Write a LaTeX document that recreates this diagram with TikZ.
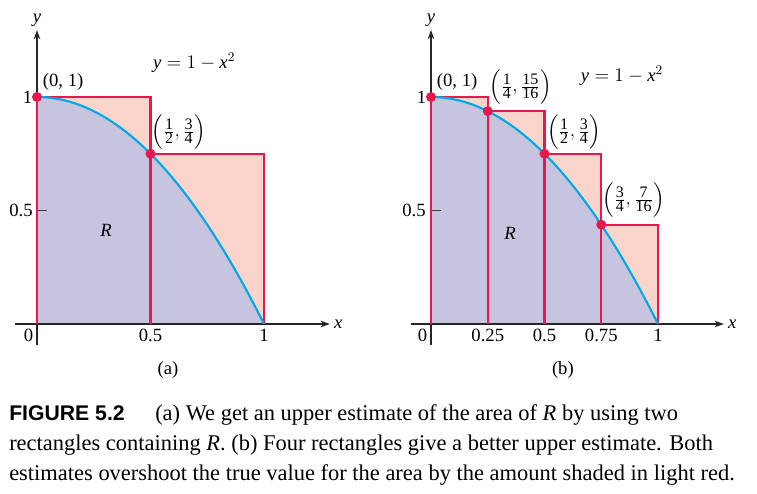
\documentclass[tikz,border=0pt]{standalone}
\usepackage{amsmath}
\usepackage{fontspec}
\setmainfont{Liberation Serif}
\newfontfamily\capsans{Liberation Sans}
\usetikzlibrary{arrows.meta}
\definecolor{regblue}{RGB}{199,196,224}
\definecolor{overred}{RGB}{250,212,203}
\definecolor{rectred}{RGB}{232,24,78}
\definecolor{curvecyan}{RGB}{0,170,228}
\newcommand{\fracdig}[1]{\mbox{\fontsize{12}{13}\selectfont #1}}
\newcommand{\ptfrac}[4]{$\left(\frac{\fracdig{#1}}{\fracdig{#2}},\frac{\fracdig{#3}}{\fracdig{#4}}\right)$}
\tikzset{
  axisline/.style={black!85, line width=0.8pt},
  axisarrow/.style={axisline, -{Stealth[length=7pt,width=5pt]}},
  tickmark/.style={black!75, line width=0.8pt},
  rectline/.style={rectred, line width=1.6pt},
  curveline/.style={curvecyan, line width=1.6pt},
  dot/.style={circle, fill=rectred, inner sep=0pt, minimum size=7.5pt},
  lbl/.style={font=\fontsize{14}{16}\selectfont, inner sep=0pt},
  captext/.style={font=\fontsize{16.85}{19}\selectfont, inner sep=0pt, anchor=base west},
}
\begin{document}
\begin{tikzpicture}[x=0.75pt, y=-0.75pt]
  \useasboundingbox (0,0) rectangle (757,493);
  % (a) two rectangles
  \begin{scope}[shift={(37,324)}, x=170.25pt, y=170.25pt]
    \fill[overred] (0,0) rectangle (0.5,1);
    \fill[overred] (0.5,0) rectangle (1,0.75);
    \fill[regblue] (0,0) -- plot[domain=0:1, samples=60] (\x,{1-\x*\x}) -- cycle;
    \foreach \t in {0.5,1}
      \draw[tickmark] (\t,0) -- (\t,0.045);
    \foreach \t in {0.5,1}
      \draw[tickmark] (0,\t) -- (0.045,\t);
    \draw[axisarrow] (-0.095,0) -- (1.29,0);
    \draw[axisarrow] (0,-0.093) -- (0,1.295);
    \draw[rectline] (0,0) -- (0,1) -- (0.5,1) -- (0.5,0);
    \draw[rectline] (0.5,0.75) -- (1,0.75) -- (1,0);
    \draw[curveline] plot[domain=0:1, samples=60] (\x,{1-\x*\x});
    \node[dot] (a0) at (0,1) {};
    \node[dot] (a1) at (0.5,0.75) {};
    \node[lbl] (ax) at (1.327,0) {\textit{x}};
    \node[lbl] (ay) at (0,1.339) {\textit{y}};
    \node[lbl, anchor=east] (ay1) at (-0.02,1) {1};
    \node[lbl, anchor=east] (ayh) at (-0.018,0.5) {0.5};
    \node[lbl, anchor=north east] (ax0) at (-0.015,-0.02) {0};
    \node[lbl, anchor=north] (axh) at (0.5,-0.02) {0.5};
    \node[lbl, anchor=north] (ax1) at (1,-0.02) {1};
    \node[lbl] (acap) at (0.577,-0.203) {(a)};
    \node[lbl] (alab0) at (0.115,1.066) {(0, 1)};
    \node[lbl] (alab1) at (0.625,0.846) {\ptfrac{1}{2}{3}{4}};
    \node[lbl] (afun) at (0.692,1.150) {$\mathit{y} = 1 - \mathit{x}^2$};
    \node[lbl] (areg) at (0.304,0.414) {\textit{R}};
  \end{scope}
  % (b) four rectangles
  \begin{scope}[shift={(431,324)}, x=170.25pt, y=170.25pt]
    \foreach \l/\h in {0/1, 0.25/0.9375, 0.5/0.75, 0.75/0.4375}
      \fill[overred] (\l,0) rectangle (\l+0.25,\h);
    \fill[regblue] (0,0) -- plot[domain=0:1, samples=60] (\x,{1-\x*\x}) -- cycle;
    \foreach \t in {0.25,0.5,0.75,1}
      \draw[tickmark] (\t,0) -- (\t,0.045);
    \foreach \t in {0.5,1}
      \draw[tickmark] (0,\t) -- (0.045,\t);
    \draw[axisarrow] (-0.09,0) -- (1.29,0);
    \draw[axisarrow] (0,-0.093) -- (0,1.295);
    \draw[rectline] (0,0) -- (0,1);
    \foreach \l/\h in {0/1, 0.25/0.9375, 0.5/0.75, 0.75/0.4375}
      \draw[rectline] (\l,\h) -- (\l+0.25,\h) -- (\l+0.25,0);
    \draw[curveline] plot[domain=0:1, samples=60] (\x,{1-\x*\x});
    \node[dot] (b0) at (0,1) {};
    \node[dot] (b1) at (0.25,0.9375) {};
    \node[dot] (b2) at (0.5,0.75) {};
    \node[dot] (b3) at (0.75,0.4375) {};
    \node[lbl] (bx) at (1.327,0) {\textit{x}};
    \node[lbl] (by) at (0,1.339) {\textit{y}};
    \node[lbl, anchor=east] (by1) at (-0.02,1) {1};
    \node[lbl, anchor=east] (byh) at (-0.022,0.5) {0.5};
    \node[lbl, anchor=north east] (bx0) at (-0.015,-0.02) {0};
    \node[lbl, anchor=north] (bxa) at (0.25,-0.02) {0.25};
    \node[lbl, anchor=north] (bxb) at (0.5,-0.02) {0.5};
    \node[lbl, anchor=north] (bxc) at (0.75,-0.02) {0.75};
    \node[lbl, anchor=north] (bxd) at (1,-0.02) {1};
    \node[lbl] (bcap) at (0.581,-0.203) {(b)};
    \node[lbl] (blab0) at (0.115,1.066) {(0, 1)};
    \node[lbl] (blab1) at (0.395,1.044) {\ptfrac{1}{4}{15}{16}};
    \node[lbl] (blab2) at (0.63,0.846) {\ptfrac{1}{2}{3}{4}};
    \node[lbl] (blab3) at (0.893,0.546) {\ptfrac{3}{4}{7}{16}};
    \node[lbl] (bfun) at (0.841,1.093) {$\mathit{y} = 1 - \mathit{x}^2$};
    \node[lbl] (breg) at (0.348,0.401) {\textit{R}};
  \end{scope}
  % caption
  \node[captext, font=\fontsize{15.9}{19}\selectfont] (capfig) at (9,420) {{\capsans\bfseries FIGURE 5.2}};
  \node[captext] (cap1) at (155,420) {(a) We get an upper estimate of the area of \textit{R} by using two};
  \node[captext] (cap2) at (9,450) {rectangles containing \textit{R}. (b) Four rectangles give a better upper estimate. Both};
  \node[captext] (cap3) at (9,480) {estimates overshoot the true value for the area by the amount shaded in light red.};
\end{tikzpicture}
\end{document}
